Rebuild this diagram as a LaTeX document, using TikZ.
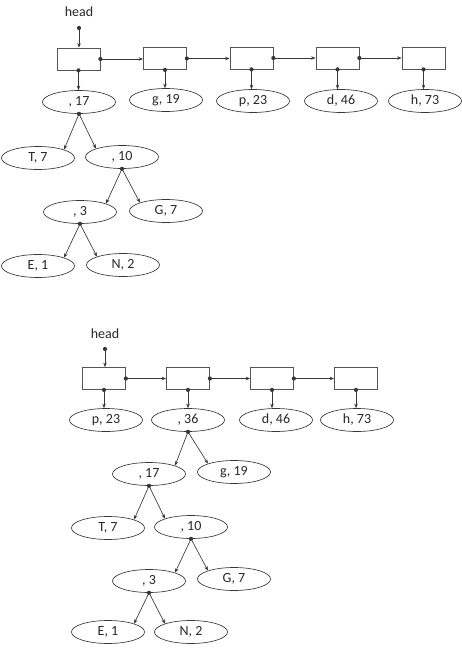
\documentclass[tikz,border=0pt]{standalone}
\usepackage{fontspec}
\setmainfont{Carlito}
\usetikzlibrary{shapes.geometric,arrows.meta}
\definecolor{lc}{RGB}{55,55,55}
\definecolor{tc}{RGB}{40,40,40}
\tikzset{
  el/.style={ellipse,draw=lc,line width=0.65pt,minimum width=73pt,minimum height=23pt,inner sep=0pt,text=tc,font=\fontsize{14}{16}\selectfont},
  bx/.style={rectangle,draw=lc!85,line width=0.75pt,minimum width=43pt,minimum height=22pt,inner sep=0pt},
  arr/.style={draw=lc,line width=0.65pt,-{Stealth[length=4.5pt,width=3.5pt]}},
  lbl/.style={text=tc,font=\fontsize{14}{16}\selectfont,inner sep=0pt}
}
\newcommand{\pdot}[1]{\fill[lc] (#1) circle (2.1pt);}
\begin{document}
\begin{tikzpicture}[x=1pt,y=-1pt]
\useasboundingbox (0,0) rectangle (462,650);
% ---------- top diagram ----------
\node[lbl] (headA) at (79,12) {head};
\coordinate (hA) at (79,28);
\node[bx] (a1) at (78.5,59) {};
\node[bx] (a2) at (165,58.5) {};
\node[bx] (a3) at (251.5,58) {};
\node[bx] (a4) at (337.5,58) {};
\node[bx] (a5) at (423.5,58) {};
\node[el] (a17) at (79,102) {, 17};
\node[el] (ag19) at (166,100) {g, 19};
\node[el] (ap23) at (253,101) {p, 23};
\node[el] (ad46) at (341,101) {d, 46};
\node[el] (ah73) at (425,101) {h, 73};
\node[el] (aT7) at (38,158) {T, 7};
\node[el] (a10) at (122,157) {, 10};
\node[el] (a3n) at (80,212) {, 3};
\node[el] (aG7) at (166,211) {G, 7};
\node[el] (aE1) at (38,266) {E, 1};
\node[el] (aN2) at (123,265) {N, 2};
\draw[arr] (hA) -- (hA |- a1.north); \pdot{hA}
\draw[arr] (a1.east) -- (a1.east -| a2.west); \pdot{a1.east}
\draw[arr] (a2.east) -- (a2.east -| a3.west); \pdot{a2.east}
\draw[arr] (a3.east) -- (a3.east -| a4.west); \pdot{a3.east}
\draw[arr] (a4.east) -- (a4.east -| a5.west); \pdot{a4.east}
\draw[arr] (a1.south) -- (a1.south |- a17.north); \pdot{a1.south}
\draw[arr] (a2.south) -- (a2.south |- ag19.north); \pdot{a2.south}
\draw[arr] (a3.south) -- (a3.south |- ap23.north); \pdot{a3.south}
\draw[arr] (a4.south) -- (a4.south |- ad46.north); \pdot{a4.south}
\draw[arr] (a5.south) -- (a5.south |- ah73.north); \pdot{a5.south}
\draw[arr] (a17.south) -- (aT7.north east);
\draw[arr] (a17.south) -- (a10.north west); \pdot{a17.south}
\draw[arr] (a10.south) -- (a3n.north east);
\draw[arr] (a10.south) -- (aG7.north west); \pdot{a10.south}
\draw[arr] (a3n.south) -- (aE1.north east);
\draw[arr] (a3n.south) -- (aN2.north west); \pdot{a3n.south}
% ---------- bottom diagram ----------
\node[lbl] (headB) at (105,334) {head};
\coordinate (hB) at (105,349);
\node[bx] (b1) at (104,378.5) {};
\node[bx] (b2) at (188,378.5) {};
\node[bx] (b3) at (272,378.5) {};
\node[bx] (b4) at (356,378.5) {};
\node[el] (bp23) at (106,420) {p, 23};
\node[el] (b36) at (188,420) {, 36};
\node[el] (bd46) at (276,420) {d, 46};
\node[el] (bh73) at (357,420) {h, 73};
\node[el] (b17) at (149,474) {, 17};
\node[el] (bg19) at (234,472) {g, 19};
\node[el] (bT7) at (108,528) {T, 7};
\node[el] (b10) at (191,527) {, 10};
\node[el] (b3n) at (149,581) {, 3};
\node[el] (bG7) at (234,579) {G, 7};
\node[el] (bE1) at (108,632) {E, 1};
\node[el] (bN2) at (191,632) {N, 2};
\draw[arr] (hB) -- (hB |- b1.north); \pdot{hB}
\draw[arr] (b1.east) -- (b1.east -| b2.west); \pdot{b1.east}
\draw[arr] (b2.east) -- (b2.east -| b3.west); \pdot{b2.east}
\draw[arr] (b3.east) -- (b3.east -| b4.west); \pdot{b3.east}
\draw[arr] (b1.south) -- (b1.south |- bp23.north); \pdot{b1.south}
\draw[arr] (b2.south) -- (b2.south |- b36.north); \pdot{b2.south}
\draw[arr] (b3.south) -- (b3.south |- bd46.north); \pdot{b3.south}
\draw[arr] (b4.south) -- (b4.south |- bh73.north); \pdot{b4.south}
\draw[arr] (b36.south) -- (b17.north east);
\draw[arr] (b36.south) -- (bg19.north west); \pdot{b36.south}
\draw[arr] (b17.south) -- (bT7.north east);
\draw[arr] (b17.south) -- (b10.north west); \pdot{b17.south}
\draw[arr] (b10.south) -- (b3n.north east);
\draw[arr] (b10.south) -- (bG7.north west); \pdot{b10.south}
\draw[arr] (b3n.south) -- (bE1.north east);
\draw[arr] (b3n.south) -- (bN2.north west); \pdot{b3n.south}
\end{tikzpicture}
\end{document}
